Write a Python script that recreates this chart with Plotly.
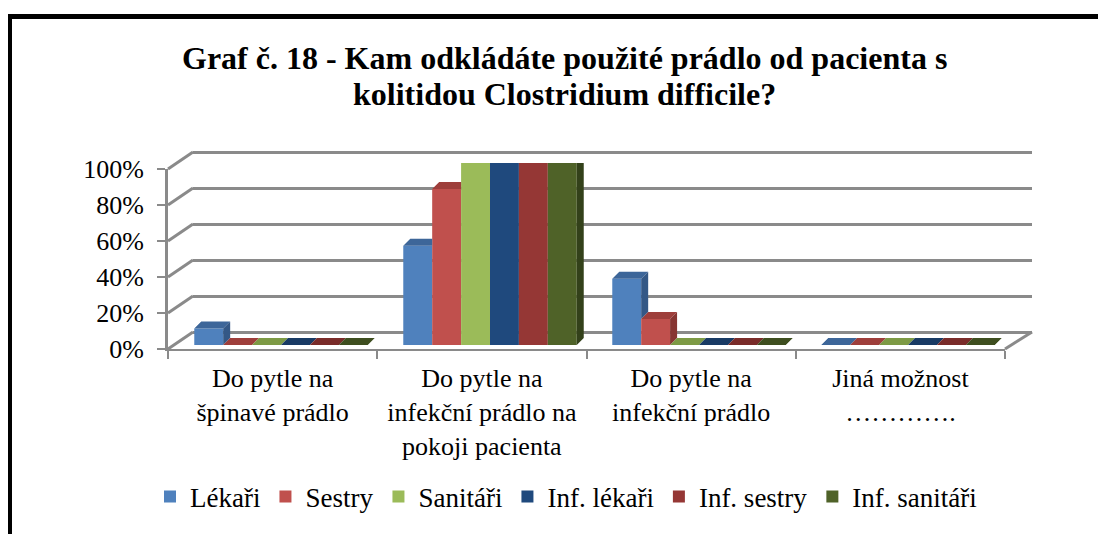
import plotly.graph_objects as go

W, H = 1106, 534

categories = [
    "Do pytle na<br>špinavé prádlo",
    "Do pytle na<br>infekční prádlo na<br>pokoji pacienta",
    "Do pytle na<br>infekční prádlo",
    "Jiná možnost<br>………….",
]
series_names = ["Lékaři", "Sestry", "Sanitáři", "Inf. lékaři", "Inf. sestry", "Inf. sanitáři"]
lekari = [9.1, 54.5, 36.4, 0]
sestry = [0, 85.7, 14.3, 0]
sanitari = [0, 100, 0, 0]
inf_lekari = [0, 100, 0, 0]
inf_sestry = [0, 100, 0, 0]
inf_sanitari = [0, 100, 0, 0]
series_values = [lekari, sestry, sanitari, inf_lekari, inf_sestry, inf_sanitari]
tick_values = [0, 20, 40, 60, 80, 100]
tick_labels = ["0%", "20%", "40%", "60%", "80%", "100%"]
title_lines = ["Graf č. 18 - Kam odkládáte použité prádlo od pacienta s",
               "kolitidou Clostridium difficile?"]

front_colors = ["#4F81BD", "#C0504D", "#9BBB59", "#1F497D", "#953735", "#4F6228"]
top_colors = ["#3D6699", "#9E3E3B", "#7D9A45", "#183A64", "#792B29", "#3E4E1F"]
side_colors = ["#345886", "#873532", "#6C873B", "#132F52", "#652321", "#33411A"]

GRAY = "#8A8A8A"
FONT = "Times New Roman, Liberation Serif, serif"
OFF = 8  # page body margin


def px(x):
    return (x - OFF) / W


def py(y):
    return 1 - (y - OFF) / H


fig = go.Figure()

# back wall (subplot xy) - drawn first
fig.add_trace(go.Scatter(x=[0, 1], y=[0, 0], mode="markers", marker=dict(opacity=0),
                         hoverinfo="skip", showlegend=False, xaxis="x", yaxis="y"))
# front axes (subplot x2y2)
fig.add_trace(go.Scatter(x=categories, y=[0] * len(categories), mode="markers",
                         marker=dict(opacity=0), hoverinfo="skip", showlegend=False,
                         xaxis="x2", yaxis="y2"))

# bars (subplot x3y3)
n = len(series_names)
bargap = 0.17
group_w = 1 - bargap
bw = group_w / n
dx = 7 / 209.0
dy = 7 / 182.0 * 100
xidx = list(range(len(categories)))

for j, (name, vals) in enumerate(zip(series_names, series_values)):
    fig.add_trace(go.Bar(
        x=xidx, y=vals, name=name, width=bw, offset=-group_w / 2 + j * bw,
        marker=dict(color=front_colors[j], line=dict(width=0)),
        xaxis="x3", yaxis="y3", showlegend=True,
    ))

for j, vals in enumerate(series_values):
    tx, ty, sx, sy = [], [], [], []
    for i, v in enumerate(vals):
        x0 = i - group_w / 2 + j * bw
        x1 = x0 + bw
        v_next = series_values[j + 1][i] if j + 1 < n else 0
        if j + 1 < n and v_next > v:
            tx += [x0, x1, x1, x0 + dx, x0, None]
            ty += [v, v, v + dy, v + dy, v, None]
        else:
            tx += [x0, x1, x1 + dx, x0 + dx, x0, None]
            ty += [v, v, v + dy, v + dy, v, None]
            base = v_next if j + 1 < n else 0
            if v > base:
                sx += [x1, x1 + dx, x1 + dx, x1, x1, None]
                sy += [base, base + dy, v + dy, v, base, None]
    fig.add_trace(go.Scatter(x=tx, y=ty, mode="lines", fill="toself", fillcolor=top_colors[j],
                             line=dict(width=0, color=top_colors[j]), hoverinfo="skip",
                             showlegend=False, xaxis="x3", yaxis="y3"))
    if sx:
        fig.add_trace(go.Scatter(x=sx, y=sy, mode="lines", fill="toself", fillcolor=side_colors[j],
                                 line=dict(width=0, color=side_colors[j]), hoverinfo="skip",
                                 showlegend=False, xaxis="x3", yaxis="y3"))

# geometry (pixels)
FX0, FX1, FY0, FY100 = 168, 1005, 349, 169     # front
BX0, BX1, BY0, BY100 = 193, 1032, 332, 152     # back wall
bar_c0, cat_w = 281, 209
BAR_Y0, BAR_Y100 = 345, 163
back_lo, back_hi = -1, 101
BY_lo = BY0 + (BY100 - BY0) * back_lo / 100
BY_hi = BY0 + (BY100 - BY0) * back_hi / 100

shapes = []
for v in tick_values:
    yf = FY0 + (FY100 - FY0) * v / 100
    yb = BY0 + (BY100 - BY0) * v / 100
    shapes.append(dict(type="line", xref="paper", yref="paper", x0=px(FX0), y0=py(yf),
                       x1=px(BX0), y1=py(yb), line=dict(color=GRAY, width=3)))
shapes.append(dict(type="line", xref="paper", yref="paper", x0=px(FX1), y0=py(FY0),
                   x1=px(BX1), y1=py(BY0), line=dict(color=GRAY, width=3)))
# outer frame
shapes.append(dict(type="rect", xref="paper", yref="paper", x0=px(9.5), y0=py(16.5),
                   x1=px(1140), y1=py(570), line=dict(color="black", width=5)))

annotations = []
for k, (line, yc) in enumerate(zip(title_lines, [58, 94])):
    annotations.append(dict(text="<b>" + line + "</b>", xref="paper", yref="paper",
                            x=px(564), y=py(yc), xanchor="center", yanchor="middle",
                            showarrow=False, font=dict(family=FONT, size=32, color="black")))

fig.update_layout(
    width=W, height=H,
    margin=dict(l=0, r=0, t=0, b=0, autoexpand=False),
    paper_bgcolor="white", plot_bgcolor="rgba(0,0,0,0)",
    font=dict(family=FONT, color="black"),
    barmode="overlay",
    showlegend=True,
    legend=dict(orientation="h", x=px(150), xanchor="left", y=py(497), yanchor="middle",
                font=dict(family=FONT, size=27, color="black"), traceorder="normal",
                bgcolor="rgba(0,0,0,0)"),
    xaxis=dict(domain=[px(BX0), px(BX1)], range=[0, 1], visible=False, anchor="y",
               automargin=False),
    yaxis=dict(domain=[py(BY_lo), py(BY_hi)], range=[back_lo, back_hi], anchor="x",
               tickvals=tick_values, showgrid=True, gridcolor=GRAY, gridwidth=3,
               zeroline=False, showticklabels=False, ticks="", showline=False,
               automargin=False),
    xaxis2=dict(domain=[px(FX0), px(FX1)], type="category", categoryorder="array",
                categoryarray=categories, range=[-0.5, 3.5], anchor="y2",
                tickson="boundaries", ticks="outside", ticklen=8, tickwidth=2, tickcolor=GRAY,
                showline=True, linecolor=GRAY, linewidth=2, showgrid=False,
                automargin=False, ticklabelstandoff=5,
                tickfont=dict(family=FONT, size=26, color="black")),
    yaxis2=dict(domain=[py(FY0), py(FY100)], range=[0, 100], anchor="x2",
                tickvals=tick_values, ticktext=tick_labels, ticks="outside", ticklen=8,
                tickwidth=2, tickcolor=GRAY, showline=True, linecolor=GRAY, linewidth=3,
                showgrid=False, zeroline=False, automargin=False, ticklabelstandoff=8,
                tickfont=dict(family=FONT, size=26, color="black")),
    xaxis3=dict(domain=[px(bar_c0 - cat_w / 2), px(bar_c0 + 3.5 * cat_w)], range=[-0.5, 3.5],
                visible=False, anchor="y3", automargin=False),
    yaxis3=dict(domain=[py(BAR_Y0), py(BAR_Y100)], range=[0, 100], visible=False,
                anchor="x3", automargin=False),
    shapes=shapes,
    annotations=annotations,
)

fig.write_html("out.html")
